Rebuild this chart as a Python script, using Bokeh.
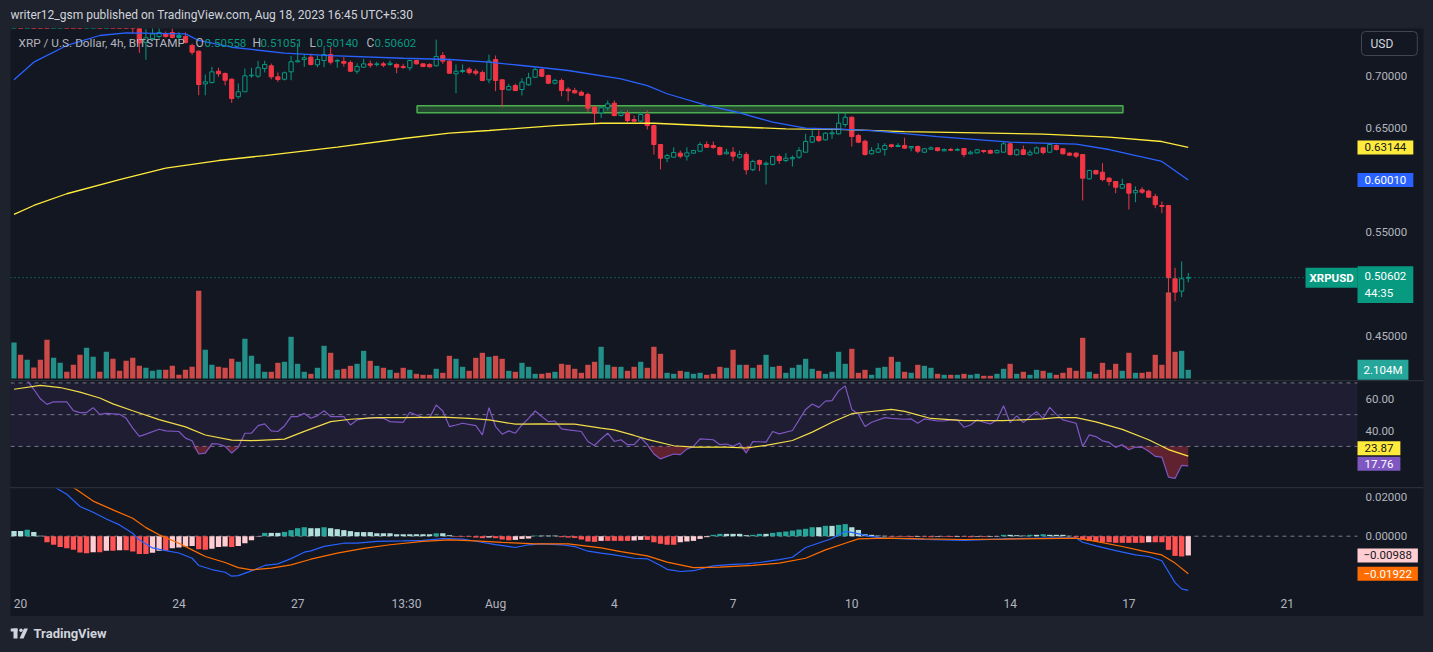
from bokeh.plotting import figure
from bokeh.models import Range1d, FixedTicker, PrintfTickFormatter, Label, BoxAnnotation, Div
from bokeh.layouts import column
from bokeh.embed import file_html
from bokeh.resources import INLINE

# ---------------- data ----------------
published = "writer12_gsm published on TradingView.com, Aug 18, 2023 16:45 UTC+5:30"
symbol_title = "XRP / U.S. Dollar, 4h, BITSTAMP"
countdown = "44:35"
ticker = "XRPUSD"
currency = "USD"

opens = [0.790,0.802,0.796,0.803,0.785,0.772,0.768,0.776,0.779,0.776,
0.767,0.764,0.766,0.771,0.765,0.767,0.765,0.761,0.752,0.747,
0.7325,0.7363,0.7382,0.7411,0.7421,0.7392,0.7382,0.7296,0.7241,0.6926,
0.6939,0.7048,0.7026,0.6971,0.6802,0.6850,0.7004,0.7000,0.7074,0.7100,
0.6994,0.6971,0.7042,0.7139,0.7161,0.7183,0.7110,0.7151,0.7209,0.7145,
0.7142,0.7132,0.7048,0.7087,0.7119,0.7113,0.7119,0.7113,0.7113,0.7093,
0.7081,0.7151,0.7119,0.7113,0.7100,0.7199,0.7145,0.7023,0.7045,0.7068,
0.7048,0.7036,0.6965,0.7161,0.6965,0.6869,0.6910,0.6872,0.6917,0.6990,
0.7065,0.7007,0.6933,0.6959,0.6875,0.6862,0.6846,0.6824,0.6702,0.6647,
0.6696,0.6740,0.6622,0.6644,0.6583,0.6567,0.6631,0.6525,0.6342,0.6210,
0.6220,0.6259,0.6230,0.6259,0.6278,0.6342,0.6333,0.6313,0.6253,0.6268,
0.6220,0.6246,0.6099,0.6188,0.6150,0.6150,0.6227,0.6188,0.6204,0.6220,
0.6268,0.6365,0.6419,0.6387,0.6445,0.6445,0.6535,0.6605,0.6429,0.6374,
0.6253,0.6268,0.6294,0.6339,0.6323,0.6333,0.6310,0.6323,0.6268,0.6297,
0.6310,0.6281,0.6294,0.6287,0.6304,0.6253,0.6262,0.6284,0.6284,0.6262,
0.6268,0.6349,0.6243,0.6291,0.6243,0.6259,0.6310,0.6268,0.6333,0.6301,
0.6259,0.6259,0.6246,0.6012,0.6092,0.6076,0.6018,0.5986,0.5922,0.5964,
0.5877,0.5906,0.5893,0.5842,0.5755,0.5755,0.5049,0.4930,0.50558]

highs = [0.808,0.811,0.809,0.805,0.787,0.776,0.779,0.783,0.781,0.778,
0.770,0.771,0.774,0.772,0.770,0.769,0.767,0.763,0.755,0.749,
0.7455,0.7469,0.7466,0.7430,0.7459,0.7424,0.7421,0.7312,0.7248,0.7016,
0.7090,0.7081,0.7036,0.6978,0.6930,0.7074,0.7081,0.7148,0.7148,0.7122,
0.7036,0.7045,0.7196,0.7315,0.7212,0.7216,0.7199,0.7279,0.7279,0.7167,
0.7183,0.7151,0.7125,0.7167,0.7151,0.7139,0.7139,0.7151,0.7125,0.7119,
0.7158,0.7158,0.7122,0.7125,0.7353,0.7231,0.7167,0.7113,0.7113,0.7087,
0.7071,0.7055,0.7209,0.7199,0.6968,0.6927,0.6927,0.6981,0.7033,0.7087,
0.7077,0.7016,0.6975,0.6978,0.6894,0.6888,0.6862,0.6843,0.6718,0.6718,
0.6766,0.6766,0.6670,0.6670,0.6622,0.6653,0.6670,0.6535,0.6342,0.6253,
0.6316,0.6284,0.6316,0.6291,0.6365,0.6371,0.6371,0.6323,0.6301,0.6316,
0.6284,0.6268,0.6195,0.6198,0.6179,0.6236,0.6246,0.6259,0.6236,0.6316,
0.6445,0.6484,0.6477,0.6461,0.6484,0.6660,0.6648,0.6612,0.6445,0.6388,
0.6316,0.6355,0.6355,0.6349,0.6355,0.6407,0.6323,0.6333,0.6310,0.6323,
0.6313,0.6304,0.6310,0.6310,0.6304,0.6284,0.6301,0.6291,0.6294,0.6294,
0.6374,0.6359,0.6301,0.6333,0.6291,0.6323,0.6316,0.6355,0.6342,0.6305,
0.6268,0.6268,0.6246,0.6099,0.6099,0.6162,0.6028,0.5989,0.6012,0.5970,
0.5938,0.5931,0.5906,0.5867,0.5793,0.5755,0.5155,0.5216,0.51051]

lows = [0.786,0.792,0.793,0.781,0.768,0.762,0.765,0.773,0.772,0.764,
0.760,0.761,0.764,0.762,0.763,0.761,0.758,0.749,0.741,0.7225,
0.7158,0.7340,0.7363,0.7370,0.7363,0.7353,0.7315,0.7206,0.6817,0.6817,
0.6930,0.6994,0.6913,0.6744,0.6785,0.6850,0.6985,0.6985,0.7036,0.6971,
0.6946,0.6959,0.6961,0.7132,0.7090,0.7103,0.7087,0.7087,0.7113,0.7081,
0.7093,0.7039,0.7023,0.7081,0.7081,0.7093,0.7087,0.7100,0.7029,0.7071,
0.7055,0.7113,0.7087,0.7085,0.7093,0.7119,0.7023,0.6836,0.7029,0.7016,
0.7007,0.6952,0.6933,0.6856,0.6702,0.6862,0.6856,0.6814,0.6910,0.6981,
0.6990,0.6923,0.6920,0.6807,0.6759,0.6830,0.6811,0.6653,0.6542,0.6599,
0.6670,0.6612,0.6612,0.6557,0.6557,0.6557,0.6487,0.6246,0.6102,0.6172,
0.6214,0.6210,0.6188,0.6253,0.6268,0.6310,0.6301,0.6236,0.6246,0.6181,
0.6207,0.6053,0.6085,0.6085,0.5957,0.6140,0.6156,0.6172,0.6130,0.6204,
0.6268,0.6355,0.6365,0.6381,0.6397,0.6439,0.6509,0.6323,0.6355,0.6236,
0.6246,0.6262,0.6236,0.6310,0.6316,0.6301,0.6278,0.6259,0.6262,0.6291,
0.6275,0.6278,0.6278,0.6278,0.6220,0.6246,0.6256,0.6259,0.6253,0.6259,
0.6265,0.6236,0.6236,0.6240,0.6236,0.6253,0.6246,0.6265,0.6284,0.6246,
0.6236,0.6210,0.5803,0.6005,0.6050,0.5989,0.5947,0.5873,0.5916,0.5716,
0.5787,0.5867,0.5829,0.5729,0.5681,0.4310,0.4833,0.4872,0.50140]

closes = [0.802,0.796,0.803,0.785,0.772,0.768,0.776,0.779,0.776,0.767,
0.764,0.766,0.771,0.765,0.767,0.765,0.761,0.752,0.747,0.7320,
0.7370,0.7406,0.7421,0.7382,0.7373,0.7373,0.7325,0.7231,0.6920,0.6946,
0.7042,0.7023,0.6961,0.6785,0.6850,0.7004,0.7010,0.7081,0.7113,0.6994,
0.6968,0.7033,0.7139,0.7148,0.7177,0.7113,0.7161,0.7209,0.7135,0.7151,
0.7125,0.7048,0.7093,0.7119,0.7106,0.7119,0.7106,0.7125,0.7087,0.7084,
0.7151,0.7119,0.7093,0.7090,0.7190,0.7145,0.7029,0.7048,0.7055,0.7036,
0.7029,0.6959,0.7145,0.6959,0.6872,0.6901,0.6862,0.6943,0.6985,0.7065,
0.7000,0.6933,0.6959,0.6862,0.6859,0.6840,0.6817,0.6692,0.6644,0.6696,
0.6734,0.6622,0.6644,0.6573,0.6567,0.6631,0.6525,0.6342,0.6210,0.6236,
0.6265,0.6230,0.6262,0.6284,0.6342,0.6316,0.6313,0.6246,0.6268,0.6230,
0.6246,0.6099,0.6179,0.6153,0.6162,0.6227,0.6188,0.6210,0.6217,0.6284,
0.6371,0.6419,0.6381,0.6451,0.6455,0.6548,0.6605,0.6419,0.6365,0.6246,
0.6284,0.6301,0.6333,0.6323,0.6333,0.6307,0.6323,0.6278,0.6301,0.6310,
0.6284,0.6294,0.6287,0.6294,0.6246,0.6268,0.6291,0.6275,0.6259,0.6284,
0.6349,0.6246,0.6291,0.6246,0.6268,0.6310,0.6265,0.6342,0.6294,0.6253,
0.6239,0.6230,0.6018,0.6092,0.6060,0.6005,0.5986,0.5931,0.5957,0.5873,
0.5899,0.5883,0.5835,0.5762,0.5745,0.5059,0.4920,0.5049,0.50602]

volumes_m = [8.74,5.74,4.53,2.67,4.53,9.38,5.02,3.80,1.62,3.32,
5.74,7.44,5.26,1.62,6.47,4.77,1.86,4.29,5.02,3.07,
2.59,1.86,2.10,2.10,3.07,0.89,2.10,2.83,21.28,6.96,
3.32,2.83,2.59,4.77,4.05,9.63,5.50,3.56,1.62,1.62,
3.80,4.05,10.11,3.56,1.62,1.13,2.59,7.93,6.23,2.10,
2.35,3.07,3.56,6.71,4.29,3.07,2.59,2.10,1.38,2.59,
2.10,1.13,0.89,0.89,2.35,1.38,5.50,4.77,2.83,1.86,
5.02,6.23,5.26,5.50,4.77,1.86,1.62,3.80,2.83,1.13,
1.13,1.38,1.62,3.56,3.32,2.35,1.38,3.32,4.05,7.69,
3.32,2.83,2.83,1.86,2.83,4.05,2.59,7.69,5.99,1.38,
1.13,1.86,1.62,1.13,1.38,0.89,1.13,2.83,2.59,6.96,
3.32,3.32,2.59,3.32,5.74,2.83,3.07,1.38,2.59,3.32,
4.77,2.35,1.86,1.13,1.62,6.47,3.56,7.20,1.38,2.10,
0.89,2.59,2.83,5.26,4.05,1.62,1.38,3.32,3.07,2.59,
1.13,0.89,0.89,0.89,1.13,0.89,1.13,0.65,0.65,1.13,
2.35,3.56,1.13,1.62,0.89,2.10,1.86,1.38,0.89,1.38,
2.59,1.86,9.87,1.62,1.13,3.80,2.10,3.56,1.86,6.23,
1.38,1.38,1.62,5.74,3.32,20.87,6.47,6.71,2.104]

ma_fast_idx = [0,3,8,13,17,26,28,33,41,48,59,66,72,77,84,92,96,99,105,110,115,120,125,130,140,151,161,166,174,178]
ma_fast = [0.6965,0.7135,0.7296,0.7392,0.7418,0.7408,0.7344,0.7279,0.7222,0.7199,0.7173,0.7161,0.7135,0.7103,
           0.7055,0.6975,0.6910,0.6831,0.6718,0.6648,0.6557,0.6499,0.6490,0.6475,0.6419,0.6365,0.6345,0.6294,0.6179,0.6001]
ma_slow_idx = [0,3,8,16,23,31,38,49,59,66,72,82,89,97,107,117,125,135,146,156,166,174,178]
ma_slow = [0.5670,0.5755,0.5868,0.6005,0.6114,0.6188,0.6236,0.6316,0.6400,0.6451,0.6477,0.6525,0.6547,0.6547,
           0.6518,0.6493,0.6487,0.6467,0.6455,0.6442,0.6413,0.6371,0.63144]

rsi_pts = [(0,74),(1,73),(2,71.7),(3,66),(4,60),(5,56.5),(6,58.1),(8,58.1),(9,52.5),(10,51.3),(11,51.3),(12,54.4),
(13,50.2),(14,50.8),(16,50.2),(17,47.7),(18,41.5),(19,36.3),(20,37.7),(22,40.8),(23,39.8),(25,39.4),(26,35.2),
(27,33.6),(28,25.2),(29,25.8),(30,31.7),(31,31.5),(32,30.0),(33,25.8),(34,29.4),(35,38.3),(36,38.3),(37,43.1),
(38,44.2),(39,39.8),(40,39.4),(41,42.9),(42,48.8),(43,48.8),(44,50.8),(45,47.7),(46,49.4),(47,52.5),(48,48.8),
(50,48.8),(51,43.5),(52,46.7),(54,48.1),(56,47.7),(57,45.6),(59,45.2),(60,51.5),(61,49.8),(62,48.1),(63,48.1),
(64,56.1),(65,52.3),(66,42.5),(67,43.5),(68,44.6),(70,43.1),(71,37.3),(72,54.4),(73,42.5),(74,37.7),(75,39.8),
(76,38.3),(77,43.5),(78,47.7),(79,52.3),(80,48.8),(81,45.6),(82,46.0),(83,41.0),(84,40.4),(86,39.4),(87,33.1),
(88,30.6),(89,34.7),(90,38.3),(91,33.1),(92,34.2),(93,31.1),(94,31.1),(95,35.6),(96,31.1),(97,25.2),(98,22.1),
(100,25.2),(101,24.8),(102,28.3),(103,30.0),(104,34.8),(106,34.2),(107,31.1),(108,31.5),(109,30.0),(110,32.1),
(111,25.8),(112,33.1),(114,32.7),(115,39.4),(116,37.9),(118,40.0),(120,53.3),(121,56.7),(122,54.6),(123,58.5),
(124,58.8),(125,65.0),(126,68.1),(127,53.3),(128,50.2),(129,42.5),(130,45.2),(132,48.1),(133,47.7),(135,47.1),
(136,47.3),(137,44.6),(138,47.3),(140,46.0),(141,46.0),(142,46.7),(143,46.7),(144,42.1),(145,43.5),(146,46.7),
(147,45.2),(148,44.2),(149,46.7),(150,55.6),(151,45.0),(152,49.2),(153,45.0),(154,48.8),(155,51.9),(156,47.7),
(157,54.6),(158,50.2),(159,46.7),(161,44.6),(162,30.0),(163,37.3),(164,36.2),(165,33.5),(166,32.5),(167,29.4),
(168,31.1),(169,27.9),(170,29.6),(171,29.4),(172,26.9),(173,23.7),(174,23.3),(175,10.6),(176,9.8),(177,18.1),(178,17.76)]
rsi_idx = [p[0] for p in rsi_pts]
rsi_vals = [p[1] for p in rsi_pts]

rsi_ma_idx = [0,4,7,10,13,15,18,22,26,29,33,36,41,44,48,51,55,59,65,69,72,76,80,85,89,91,94,96,100,103,108,111,114,
              118,121,124,127,130,133,135,139,144,150,156,158,161,164,168,172,175,178]
rsi_ma_vals = [66.0,68.5,67.1,64.2,60.5,56.8,52.5,46.9,42.3,37.2,34.0,33.6,34.6,39.5,45.6,47.1,48.1,48.1,48.5,47.6,46.7,
               44.0,44.2,44.0,41.5,40.4,36.9,34.4,30.4,29.6,29.6,29.0,30.6,33.7,39.0,45.2,50.6,52.0,53.3,52.1,47.6,46.2,
               46.2,47.4,48.1,48.1,45.5,40.7,34.2,28.0,23.87]

macd_pts = [(0,0.0318),(2,0.0328),(4,0.0300),(5,0.0272),(6,0.0255),(8,0.0215),(10,0.0152),(12,0.0123),(14,0.0088),
(16,0.0058),(18,0.0015),(19,-0.0020),(21,-0.0060),(23,-0.0074),(25,-0.0086),(27,-0.0113),(28,-0.0150),(30,-0.0171),
(32,-0.0185),(33,-0.0205),(34,-0.0202),(36,-0.0178),(38,-0.0150),(40,-0.0142),(42,-0.0115),(44,-0.0082),(45,-0.0075),
(47,-0.0052),(50,-0.0036),(52,-0.0036),(55,-0.0027),(59,-0.0024),(62,-0.0021),(65,-0.0012),(68,-0.0015),(70,-0.0026),
(73,-0.0043),(76,-0.0058),(78,-0.0044),(80,-0.0039),(83,-0.0044),(85,-0.0053),(87,-0.0077),(89,-0.0087),(91,-0.0096),
(94,-0.0113),(96,-0.0116),(98,-0.0150),(99,-0.0170),(101,-0.0181),(103,-0.0177),(105,-0.0160),(106,-0.0152),
(109,-0.0144),(111,-0.0142),(113,-0.0135),(116,-0.0120),(118,-0.0108),(120,-0.0058),(122,-0.0035),(124,-0.0012),
(126,0.0024),(127,0.0020),(130,-0.0002),(132,-0.0010),(138,-0.0017),(144,-0.0022),(150,-0.0014),(156,-0.0010),
(161,-0.0009),(162,-0.0031),(164,-0.0050),(167,-0.0074),(170,-0.0096),(172,-0.0104),(174,-0.0126),(176,-0.0238),
(177,-0.0270),(178,-0.0278)]
macd_idx = [p[0] for p in macd_pts]
macd_vals = [p[1] for p in macd_pts]

signal_pts = [(0,0.0291),(2,0.0296),(4,0.0298),(6,0.0290),(8,0.0270),(9,0.0250),(12,0.0180),(15,0.0135),(18,0.0092),
(20,0.0044),(22,0.0007),(25,-0.0036),(27,-0.0070),(29,-0.0104),(32,-0.0135),(34,-0.0161),(36,-0.0173),(39,-0.0164),
(42,-0.0147),(45,-0.0118),(49,-0.0087),(53,-0.0062),(57,-0.0044),(62,-0.0027),(66,-0.0019),(70,-0.0024),(74,-0.0032),
(79,-0.0039),(84,-0.0039),(89,-0.0060),(92,-0.0079),(96,-0.0101),(99,-0.0133),(103,-0.0161),(107,-0.0159),
(112,-0.0150),(116,-0.0138),(120,-0.0113),(123,-0.0070),(126,-0.0036),(128,-0.0014),(132,-0.0010),(138,-0.0014),
(144,-0.0017),(150,-0.0015),(156,-0.0012),(161,-0.0010),(164,-0.0027),(168,-0.0053),(171,-0.0075),(174,-0.0096),
(176,-0.0138),(178,-0.01922)]
signal_idx = [p[0] for p in signal_pts]
signal_vals = [p[1] for p in signal_pts]

hist_vals = [0.0027,0.0027,0.0033,0.0021,0.0002,-0.0031,-0.0044,-0.0056,-0.0062,-0.0070,
-0.0084,-0.0087,-0.0082,-0.0082,-0.0075,-0.0075,-0.0072,-0.0072,-0.0079,-0.0091,
-0.0091,-0.0085,-0.0075,-0.0075,-0.0062,-0.0058,-0.0053,-0.0050,-0.0067,-0.0070,
-0.0065,-0.0056,-0.0053,-0.0056,-0.0050,-0.0036,-0.0021,-0.0002,0.0017,0.0017,
0.0017,0.0022,0.0031,0.0041,0.0046,0.0041,0.0041,0.0046,0.0041,0.0036,
0.0031,0.0026,0.0021,0.0021,0.0021,0.0015,0.0015,0.0015,0.0010,0.0010,
0.0010,0.0010,0.0010,0.0010,0.0015,0.0015,0.0005,-0.0003,-0.0003,-0.0003,
-0.0007,-0.0010,-0.0007,-0.0010,-0.0017,-0.0021,-0.0019,-0.0014,-0.0012,0.0003,
0.0003,0.0003,0.0003,-0.0005,-0.0007,-0.0009,-0.0017,-0.0027,-0.0029,
-0.0024,-0.0024,-0.0024,-0.0024,-0.0024,-0.0022,-0.0019,-0.0019,-0.0031,-0.0039,
-0.0044,-0.0044,-0.0031,-0.0027,-0.0024,-0.0014,-0.0005,0.0007,0.0012,0.0012,
0.0012,0.0012,0.0005,0.0007,0.0012,0.0012,0.0017,0.0021,0.0024,0.0029,
0.0034,0.0038,0.0046,0.0046,0.0053,0.0053,0.0058,0.0062,0.0046,0.0032,
0.0010,0.0007,0.0003,0.0002,-0.0003,-0.0003,-0.0003,-0.0005,-0.0003,-0.0003,
-0.0005,-0.0003,-0.0003,-0.0004,-0.0003,-0.0003,-0.0005,-0.0003,-0.0004,-0.0003,
-0.0002,0.0007,0.0007,0.0005,0.0003,0.0007,0.0007,0.0010,0.0007,0.0007,
0.0007,0.0002,-0.0005,-0.0017,-0.0024,-0.0027,-0.0031,-0.0031,-0.0034,-0.0034,
-0.0034,-0.0034,-0.0034,-0.0031,-0.0031,-0.0031,-0.0070,-0.0101,-0.0104,-0.00988]

zone_start, zone_end = 61.1, 168.1
zone_low, zone_high = 0.6648, 0.6715

price_ticks = [0.45, 0.55, 0.65, 0.70]
rsi_ticks = [40, 60]
rsi_levels = [30, 50, 70]
macd_ticks = [0.0, 0.02]
date_tick_idx = [1, 25, 43, 59.5, 73, 91, 109, 127, 151, 169, 193]
date_tick_labels = ["20", "24", "27", "13:30", "Aug", "4", "7", "10", "14", "17", "21"]

# ---------------- style / layout ----------------
FONT = "Roboto"
BG = "#131722"
OUTER = "#1e222d"
TXT = "#b2b5be"
UP = "#089981"
DN = "#f23645"
W = 1433

n = len(closes)
idx = list(range(n))
last = n - 1
X_LO, X_HI = -0.53, 213.66      # chart column incl. price-scale column
PLOT_EDGE = 203.65              # where the price-scale column starts
xr = Range1d(X_LO, X_HI)


def pane(h, yr, top=0, bottom=0):
    p = figure(width=W, height=h, x_range=xr, y_range=yr, output_backend="svg", toolbar_location=None,
               y_axis_location="right", x_axis_location="below",
               min_border_left=10, min_border_right=10, min_border_top=top, min_border_bottom=bottom,
               background_fill_color=BG, border_fill_color=OUTER, outline_line_color=None)
    p.grid.visible = False
    ya = p.yaxis[0]
    ya.fixed_location = PLOT_EDGE
    ya.axis_line_color = None
    ya.major_tick_line_color = None
    ya.minor_tick_line_color = None
    ya.major_tick_out = 0
    ya.minor_tick_out = 0
    ya.major_label_text_color = TXT
    ya.major_label_text_font = FONT
    ya.major_label_text_font_size = "11.5px"
    ya.major_label_standoff = 8
    p.xaxis.visible = False
    return p


def badge(p, text, y, bg, fg, yname="default", y_offset=0, x=1347, pad=(7, 3), bold=False):
    p.add_layout(Label(x=x, y=y, x_units="screen", y_units="data", y_range_name=yname, text=text,
                       text_font=FONT, text_font_size="11.5px", text_color=fg,
                       text_font_style=("bold" if bold else "normal"),
                       text_align="left", text_baseline="middle", y_offset=y_offset,
                       background_fill_color=bg, background_fill_alpha=1.0, padding=pad))


def minus(s):
    return s.replace("-", "\u2212")


def strip(h):
    f = figure(width=W, height=h, x_range=Range1d(10, W - 10), y_range=Range1d(0, h), output_backend="svg",
               toolbar_location=None, min_border_left=10, min_border_right=10, min_border_top=0,
               min_border_bottom=0, background_fill_color=OUTER, border_fill_color=OUTER,
               outline_line_color=None, x_axis_location=None, y_axis_location=None)
    f.grid.visible = False
    return f


# ---------------- header ----------------
hdr = strip(27)
hdr.add_layout(Label(x=10, y=13, text=published, text_font=FONT, text_font_size="12px",
                     text_color="#d1d4dc", text_baseline="middle"))

# ---------------- main pane ----------------
pm = pane(353, Range1d(0.40695, 0.74594), top=1)
pm.yaxis.ticker = FixedTicker(ticks=price_ticks)
pm.yaxis.formatter = PrintfTickFormatter(format="%.5f")
pm.extra_y_ranges = {"vol": Range1d(-0.49, 84.9)}

vol_col = ["#26a69a" if c >= o else "#ef5350" for o, c in zip(opens, closes)]
pm.vbar(x=idx, top=volumes_m, bottom=0, width=0.8, y_range_name="vol", fill_color=vol_col,
        line_color=None, fill_alpha=0.85)

prev_close = [opens[0]] + closes[:-1]
c_col = [UP if c >= pc else DN for c, pc in zip(closes, prev_close)]
c_fill = [BG if c >= o else col for o, c, col in zip(opens, closes, c_col)]
body_top = [max(o, c) for o, c in zip(opens, closes)]
body_bot = [min(o, c) for o, c in zip(opens, closes)]

pm.quad(left=zone_start, right=zone_end, bottom=zone_low, top=zone_high, fill_color="#4caf50",
        fill_alpha=0.33, line_color="#4caf50", line_width=1.5)
pm.segment(x0=idx, y0=lows, x1=idx, y1=highs, line_color=c_col, line_width=1)
pm.vbar(x=idx, top=body_top, bottom=body_bot, width=0.64, fill_color=c_fill, line_color=c_col, line_width=1)
pm.line(ma_slow_idx, ma_slow, line_color="#ffeb3b", line_width=1.3)
pm.line(ma_fast_idx, ma_fast, line_color="#2962ff", line_width=1.3)
pm.segment(x0=[X_LO], x1=[PLOT_EDGE], y0=[closes[last]], y1=[closes[last]], line_color=UP,
           line_dash="1 3", line_width=1)

LY = 338
pm.add_layout(Label(x=8, y=LY, x_units="screen", y_units="screen", text=symbol_title, text_font=FONT,
                    text_font_size="11.8px", text_color=TXT, text_baseline="middle"))
for xl, off, letter, val in [(185, 9, "O", opens[last]), (242, 8, "H", highs[last]),
                             (299, 7, "L", lows[last]), (356, 8, "C", closes[last])]:
    pm.add_layout(Label(x=xl, y=LY, x_units="screen", y_units="screen", text=letter, text_font=FONT,
                        text_font_size="12px", text_color=TXT, text_baseline="middle"))
    pm.add_layout(Label(x=xl + off, y=LY, x_units="screen", y_units="screen", text="%.5f" % val,
                        text_font=FONT, text_font_size="11.5px", text_color=UP, text_baseline="middle"))

pm.add_layout(Label(x=1351, y=337, x_units="screen", y_units="screen", text=currency, text_font=FONT,
                    text_font_size="12px", text_color="#d1d4dc", text_baseline="middle",
                    background_fill_color=BG, border_line_color="#434651", border_line_width=1,
                    padding=(9, 24, 5, 5), border_radius=4))
badge(pm, "%.5f" % ma_slow[-1], ma_slow[-1], "#ffeb3b", "#131722")
badge(pm, "%.5f" % ma_fast[-1], ma_fast[-1], "#2962ff", "#ffffff")
badge(pm, "%.5f\n%s" % (closes[last], countdown), closes[last], UP, "#ffffff", y_offset=-7)
badge(pm, ticker, closes[last], UP, "#ffffff", x=1295, pad=(4, 3), bold=True)
badge(pm, "%.3fM" % volumes_m[last], volumes_m[last], "#26a69a", "#ffffff", yname="vol", pad=(6, 3))

# ---------------- RSI pane ----------------
pr = pane(106, Range1d(4.1, 70.9))
pr.yaxis.ticker = FixedTicker(ticks=rsi_ticks)
pr.yaxis.formatter = PrintfTickFormatter(format="%.2f")
pr.add_layout(BoxAnnotation(bottom=rsi_levels[0], top=rsi_levels[2], right=PLOT_EDGE, fill_color="#7e57c2",
                            fill_alpha=0.1, line_color=None))
pr.segment(x0=[X_LO] * 3, x1=[PLOT_EDGE] * 3, y0=rsi_levels, y1=rsi_levels, line_color="#787b86",
           line_dash="4 4", line_width=1)
pr.varea(x=rsi_idx, y1=[min(v, rsi_levels[0]) for v in rsi_vals], y2=[rsi_levels[0]] * len(rsi_vals),
         fill_color="#f23645", fill_alpha=0.35)
pr.line(rsi_idx, rsi_vals, line_color="#7e57c2", line_width=1.2)
pr.line(rsi_ma_idx, rsi_ma_vals, line_color="#ffeb3b", line_width=1.2)
badge(pr, "%.2f" % rsi_ma_vals[-1], rsi_ma_vals[-1], "#ffeb3b", "#131722", y_offset=8)
badge(pr, "%.2f" % rsi_vals[-1], rsi_vals[-1], "#7e57c2", "#ffffff", y_offset=2)

# ---------------- MACD pane (with time scale) ----------------
pc = pane(128, Range1d(-0.04118, 0.02446))
pc.yaxis.ticker = FixedTicker(ticks=macd_ticks)
pc.yaxis.formatter = PrintfTickFormatter(format="%.5f")
xa = pc.xaxis[0]
xa.visible = True
xa.fixed_location = -0.02785
xa.ticker = FixedTicker(ticks=date_tick_idx)
xa.major_label_overrides = {t: s for t, s in zip(date_tick_idx, date_tick_labels)}
xa.axis_line_color = None
xa.major_tick_line_color = None
xa.minor_tick_line_color = None
xa.major_tick_out = 0
xa.minor_tick_out = 0
xa.major_label_text_color = TXT
xa.major_label_text_font = FONT
xa.major_label_text_font_size = "12px"
xa.major_label_standoff = 6
pc.segment(x0=[X_LO], x1=[PLOT_EDGE], y0=[0], y1=[0], line_color="#787b86", line_dash="4 4", line_width=1)

h_col = []
for i, h in enumerate(hist_vals):
    ph = hist_vals[i - 1] if i > 0 else h
    if h >= 0:
        h_col.append("#26a69a" if h > ph else "#b2dfdb")
    else:
        h_col.append("#ffcdd2" if h > ph else "#ff5252")
pc.vbar(x=idx, top=hist_vals, bottom=0, width=0.8, fill_color=h_col, line_color=None)
pc.line(macd_idx, macd_vals, line_color="#2962ff", line_width=1.2)
pc.line(signal_idx, signal_vals, line_color="#ff6d00", line_width=1.2)
badge(pc, minus("%.5f" % hist_vals[-1]), hist_vals[-1], "#ffcdd2", "#131722", pad=(6, 3))
badge(pc, minus("%.5f" % signal_vals[-1]), signal_vals[-1], "#ff6d00", "#ffffff", pad=(6, 3))

# ---------------- footer ----------------
ft = strip(36)
ft.quad(left=[10, 13], right=[17, 17], bottom=[21, 14], top=[24, 24], fill_color="#d1d4dc", line_color=None)
ft.circle(x=[20.5], y=[22.2], radius=1.7, fill_color="#d1d4dc", line_color=None)
ft.patch(x=[23.5, 27.5, 23, 19], y=[24, 24, 14, 14], fill_color="#d1d4dc", line_color=None)
ft.add_layout(Label(x=33, y=19, text="TradingView", text_font=FONT, text_font_size="13px",
                    text_font_style="bold", text_color="#d1d4dc", text_baseline="middle"))


def sep():
    return Div(width=W - 20, height=1, margin=(0, 10, 0, 10), styles={"background-color": "#2a2e39"})


layout = column(hdr, pm, sep(), pr, sep(), pc, ft, spacing=0)

html = file_html(layout, INLINE)
html = html.replace("</head>", "<style>body{background-color:#1e222d;}</style></head>", 1)
open("out.html", "w").write(html)
